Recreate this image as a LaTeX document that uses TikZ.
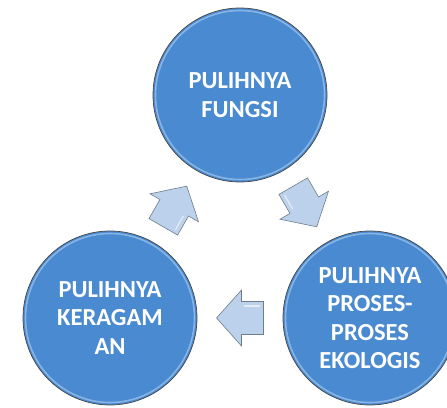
\documentclass[tikz,border=0pt]{standalone}
\usepackage{fontspec}
\setmainfont{Carlito}
\usetikzlibrary{calc}
\definecolor{circfill}{HTML}{4A8AD0}
\definecolor{circring}{HTML}{9CC3EC}
\definecolor{arrfill}{HTML}{BCD1EB}
\definecolor{arredge}{HTML}{6F7C8A}
\tikzset{
  circ/.style={circle, minimum size=174pt, inner sep=0pt, fill=circfill,
    draw=gray!55!black, line width=0.7pt, text=white, align=center,
    font=\bfseries\fontsize{24.5}{28.5}\selectfont},
  ring/.style={draw=circring, line width=1.6pt, opacity=0.75},
  arrowbody/.style={fill=arrfill, draw=arredge, line width=0.6pt, line join=miter},
  cyclearrow/.pic={
    \path[arrowbody] (-23.5pt,-16.5pt) -- (-1.5pt,-16.5pt) -- (-1.5pt,-28pt)
      -- (23.5pt,0pt) -- (-1.5pt,28pt) -- (-1.5pt,16.5pt) -- (-23.5pt,16.5pt) -- cycle;
    \draw[white, opacity=0.6, line width=1.2pt] (-20pt,-12pt) -- (-4pt,-12pt);
  }
}
\begin{document}
\begin{tikzpicture}[x=1pt,y=1pt]
\useasboundingbox (0,0) rectangle (447,407);
\clip (0,0) rectangle (447,407);
\node[circ] (fungsi) at (240,312) {PULIHNYA\\FUNGSI};
\node[circ] (keragaman) at (110,89) {PULIHNYA\\KERAGAM\\AN};
\node[circ] (proses) at (370,89) {PULIHNYA\\PROSES-\\PROSES\\EKOLOGIS};
\foreach \n in {fungsi,keragaman,proses}{
  \draw[ring] (\n.center) circle (84.5pt);
}
\pic[rotate=-60] at ($(fungsi.center)!0.5!(proses.center)$) {cyclearrow};
\pic[rotate=180] at ($(proses.center)!0.5!(keragaman.center)$) {cyclearrow};
\pic[rotate=60] at ($(keragaman.center)!0.5!(fungsi.center)$) {cyclearrow};
\end{tikzpicture}
\end{document}
